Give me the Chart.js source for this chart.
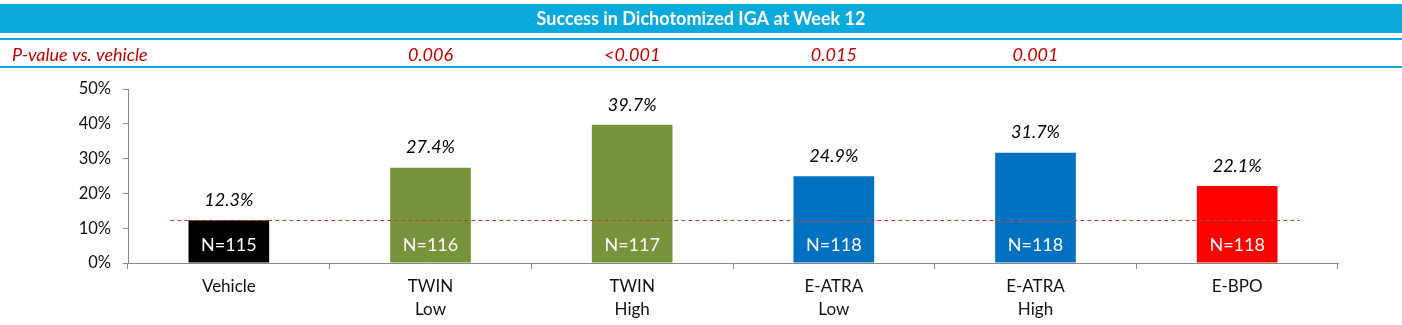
<!DOCTYPE html>
<html><head><meta charset="utf-8">
<script src="https://cdn.jsdelivr.net/npm/chart.js@4/dist/chart.umd.min.js"></script>
<style>html,body{margin:0;padding:0;background:#fff;}#wrap{width:1402px;height:325px;position:relative;}</style>
</head><body><div id="wrap"><canvas id="c" width="1402" height="325"></canvas></div>
<script>
const title = 'Success in Dichotomized IGA at Week 12';
const pLabel = 'P-value vs. vehicle';
const categories = [['Vehicle'], ['TWIN','Low'], ['TWIN','High'], ['E-ATRA','Low'], ['E-ATRA','High'], ['E-BPO']];
const successPct = [12.3, 27.4, 39.7, 24.9, 31.7, 22.1];
const nLabels = ['N=115','N=116','N=117','N=118','N=118','N=118'];
const pValues = ['', '0.006', '<0.001', '0.015', '0.001', ''];
const barColors = ['#000000','#77933C','#77933C','#0070C0','#0070C0','#FF0000'];
const yTicks = [0, 10, 20, 30, 40, 50];
const vehicleRef = successPct[0];

const FONT = 'Lato, "Liberation Sans", sans-serif';

const overlay = {
  id: 'overlay',
  beforeDraw(chart) {
    const ctx = chart.ctx, W = chart.width;
    ctx.save();
    ctx.fillStyle = '#0AAADC';
    ctx.fillRect(0, 4, W, 29);
    ctx.fillRect(0, 38, W, 2);
    ctx.fillRect(0, 66, W, 2);
    ctx.fillStyle = '#fff';
    ctx.font = 'bold 18px ' + FONT;
    ctx.textAlign = 'center'; ctx.textBaseline = 'middle';
    ctx.fillText(title, W / 2, 19);
    ctx.fillStyle = '#C00000';
    ctx.font = 'italic 18px ' + FONT;
    ctx.textAlign = 'left';
    ctx.fillText(pLabel, 12, 55);
    const xs = chart.scales.x;
    ctx.textAlign = 'center';
    pValues.forEach((p, i) => { if (p) ctx.fillText(p, xs.getPixelForValue(i), 55); });
    ctx.restore();
  },
  afterDatasetsDraw(chart) {
    const ctx = chart.ctx, xs = chart.scales.x, ys = chart.scales.y;
    const meta = chart.getDatasetMeta(0);
    const step = xs.getPixelForValue(1) - xs.getPixelForValue(0);
    ctx.save();
    ctx.strokeStyle = '#B5433F';
    ctx.lineWidth = 1;
    ctx.setLineDash([4, 3]);
    const yRef = Math.round(ys.getPixelForValue(vehicleRef)) + 0.5;
    ctx.beginPath();
    ctx.moveTo(xs.getPixelForValue(0) - 0.29 * step, yRef);
    ctx.lineTo(xs.getPixelForValue(successPct.length - 1) + 0.31 * step, yRef);
    ctx.stroke();
    ctx.setLineDash([]);
    ctx.textAlign = 'center'; ctx.textBaseline = 'middle';
    meta.data.forEach((bar, i) => {
      ctx.fillStyle = '#000';
      ctx.font = 'italic 18px ' + FONT;
      ctx.fillText(successPct[i].toFixed(1) + '%', bar.x, bar.y - 20);
      ctx.fillStyle = '#fff';
      ctx.font = '18px ' + FONT;
      ctx.fillText(nLabels[i], bar.x, ys.getPixelForValue(0) - 18);
    });
    ctx.restore();
  }
};

new Chart(document.getElementById('c'), {
  type: 'bar',
  data: {
    labels: categories,
    datasets: [{ data: successPct, backgroundColor: barColors, barPercentage: 0.4, categoryPercentage: 1.0 }]
  },
  options: {
    responsive: false,
    animation: false,
    events: [],
    layout: { padding: { top: 89, right: 64, left: 0, bottom: 0 } },
    plugins: { legend: { display: false }, tooltip: { enabled: false } },
    scales: {
      y: {
        min: 0, max: 50,
        afterFit(s) { s.width = 128; },
        afterBuildTicks(s) { s.ticks = yTicks.map(v => ({ value: v })); },
        ticks: { callback: v => v + '%', color: '#111', font: { family: FONT, size: 16.5 }, padding: 12 },
        grid: { drawOnChartArea: false, tickLength: 5, color: '#888' },
        border: { color: '#888', width: 1 }
      },
      x: {
        afterFit(s) { s.height = 62; },
        ticks: { color: '#111', font: { family: FONT, size: 17, lineHeight: 1.35 }, padding: 6 },
        grid: { drawOnChartArea: false, tickLength: 6, color: '#888', offset: true },
        border: { color: '#888', width: 1 }
      }
    }
  },
  plugins: [overlay]
});
</script></body></html>
